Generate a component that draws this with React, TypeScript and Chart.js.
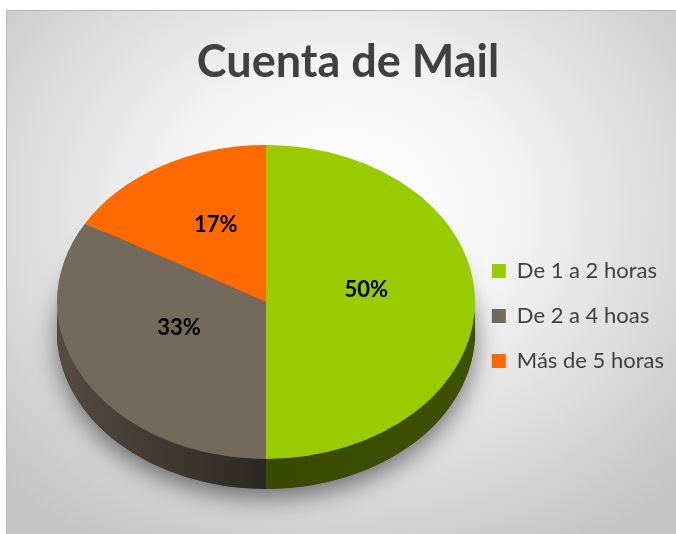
import React, { useEffect, useRef } from 'react';
import { Chart, registerables } from 'chart.js';

Chart.register(...registerables);

// ---- data ----
const TITLE = 'Cuenta de Mail';
const CATEGORIES = ['De 1 a 2 horas', 'De 2 a 4 hoas', 'Más de 5 horas'];
const COUNTS = [3, 2, 1];

// ---- styles ----
const COLORS = ['#99cc00', '#746a5c', '#ff6a00'];
const SIDE_EDGE = ['#3e5100', '#564b41', '#a84400'];
const SIDE_MID = ['#384900', '#2c2823', '#7a3000'];
const FONT = 'Lato, "Open Sans", sans-serif';
const PIE_RADIUS = 209;
const TILT = 0.751;
const DEPTH = 30;
const PIE_CX = 259;
const PIE_CY = 291;
const LABEL_FRACTION = 0.48;
const LABEL_LIFT = 12;

const pie3d = {
  id: 'pie3d',
  beforeDatasetsDraw(chart: any) {
    const meta = chart.getDatasetMeta(0);
    const ctx: CanvasRenderingContext2D = chart.ctx;
    const arcs = meta.data;
    if (!arcs.length) return;
    const { x: cx, y: cy, outerRadius: r } = arcs[0].getProps(['x', 'y', 'outerRadius'], true);
    const ry = r * TILT;
    // soft shadow under the pie
    ctx.save();
    ctx.shadowColor = 'rgba(0,0,0,0.5)';
    ctx.shadowBlur = 24;
    ctx.shadowOffsetY = 9;
    ctx.beginPath();
    ctx.ellipse(PIE_CX, PIE_CY + DEPTH, r, ry, 0, 0, Math.PI * 2);
    ctx.fillStyle = '#333';
    ctx.fill();
    ctx.restore();
    // side walls (front half)
    arcs.forEach((arc: any, i: number) => {
      const { startAngle, endAngle } = arc.getProps(['startAngle', 'endAngle'], true);
      const a = Math.max(startAngle, 0);
      const b = Math.min(endAngle, Math.PI);
      if (b <= a) return;
      ctx.save();
      ctx.beginPath();
      ctx.ellipse(PIE_CX, PIE_CY, r, ry, 0, a, b);
      ctx.ellipse(PIE_CX, PIE_CY + DEPTH, r, ry, 0, b, a, true);
      ctx.closePath();
      const g = ctx.createLinearGradient(PIE_CX - r, 0, PIE_CX + r, 0);
      g.addColorStop(0, SIDE_EDGE[i]);
      g.addColorStop(0.5, SIDE_MID[i]);
      g.addColorStop(1, SIDE_EDGE[i]);
      ctx.fillStyle = g;
      ctx.fill();
      ctx.restore();
    });
    ctx.save();
    ctx.translate(PIE_CX, PIE_CY);
    ctx.scale(1, TILT);
    ctx.translate(-cx, -cy);
  },
  afterDatasetsDraw(chart: any) {
    const ctx: CanvasRenderingContext2D = chart.ctx;
    ctx.restore();
    const meta = chart.getDatasetMeta(0);
    const data: number[] = chart.data.datasets[0].data;
    const total = data.reduce((s, v) => s + v, 0);
    ctx.save();
    ctx.font = `bold 22px ${FONT}`;
    ctx.fillStyle = '#000';
    ctx.textAlign = 'center';
    ctx.textBaseline = 'middle';
    meta.data.forEach((arc: any, i: number) => {
      const { startAngle, endAngle, outerRadius: r } = arc.getProps(['startAngle', 'endAngle', 'outerRadius'], true);
      const mid = (startAngle + endAngle) / 2;
      const x = PIE_CX + Math.cos(mid) * r * LABEL_FRACTION;
      const y = PIE_CY + Math.sin(mid) * r * TILT * LABEL_FRACTION - LABEL_LIFT;
      ctx.fillText(Math.round((data[i] / total) * 100) + '%', x, y);
    });
    ctx.restore();
  },
};

export default function App() {
  const ref = useRef<HTMLCanvasElement>(null);
  useEffect(() => {
    if (!ref.current) return;
    const chart = new Chart(ref.current, {
      type: 'pie',
      data: {
        labels: CATEGORIES,
        datasets: [
          {
            data: COUNTS,
            backgroundColor: COLORS,
            borderWidth: 0,
            radius: PIE_RADIUS,
            clip: false,
          } as any,
        ],
      },
      options: {
        animation: false,
        responsive: false,
        layout: { padding: { left: 15, right: 3, top: 0, bottom: 2 } },
        plugins: {
          title: {
            display: true,
            text: TITLE,
            color: '#404040',
            font: { family: FONT, size: 45, weight: 'bold' },
            padding: { top: 24, bottom: 10 },
          },
          legend: {
            position: 'right',
            fullSize: false,
            labels: {
              boxWidth: 14,
              boxHeight: 14,
              padding: 23,
              color: '#404040',
              font: { family: FONT, size: 22 },
            },
          },
          tooltip: { enabled: false },
        },
      } as any,
      plugins: [pie3d],
    });
    return () => chart.destroy();
  }, []);
  return (
    <div
      style={{
        position: 'fixed',
        left: 6,
        top: 10,
        width: 672,
        height: 526,
        boxSizing: 'border-box',
        border: '1px solid #b8b8b8',
        background:
          'radial-gradient(ellipse 70% 75% at 50% 38%, #ffffff 0%, #f5f5f5 35%, #c4c4c4 100%)',
      }}
    >
      <canvas ref={ref} width={670} height={524} style={{ display: 'block' }} />
    </div>
  );
}
